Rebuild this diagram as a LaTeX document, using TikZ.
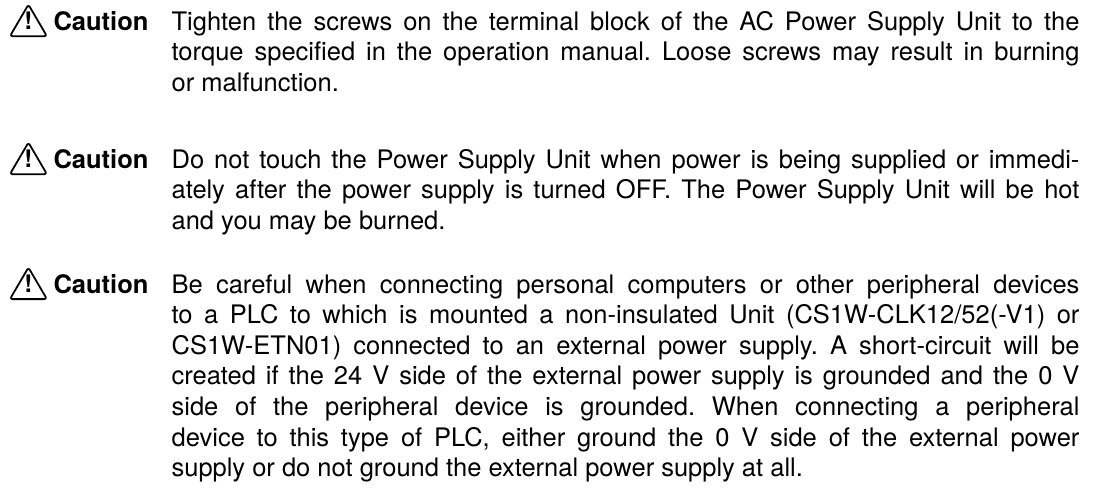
\documentclass[tikz,border=0pt]{standalone}
\usepackage{fontspec}
\setmainfont{TeX Gyre Heros}
\usetikzlibrary{positioning}

\tikzset{
  warnsign/.style={line width=0.7pt, rounded corners=1pt, line join=round},
  warnmark/.style={font=\fontsize{9.5}{9.5}\selectfont\bfseries, inner sep=0pt, anchor=base},
  cautionlabel/.style={font=\bfseries, inner sep=0pt, anchor=base west},
  cautiontext/.style={inner sep=0pt, anchor=base west}
}

\newcommand{\cautionpar}[1]{\parbox[t]{356pt}{\fontsize{10}{12}\selectfont\frenchspacing
  \hyphenpenalty=10000\exhyphenpenalty=10000\emergencystretch=20pt #1}}

\begin{document}
\begin{tikzpicture}[font=\fontsize{10}{12}\selectfont]

    % Fix the page size
    \useasboundingbox (0,0) rectangle (429pt,-191.8pt);

    % Define the baselines of the three cautions
    \coordinate (B1) at (0,-11.8pt);
    \coordinate (B2) at (0,-65.9pt);
    \coordinate (B3) at (0,-114.9pt);

    % First caution: warning sign, label and text
    \draw[warnsign] ([shift={(3.9pt,-2.4pt)}]B1) -- ([shift={(18.4pt,-2.4pt)}]B1)
        -- ([shift={(11.15pt,10pt)}]B1) -- cycle;
    \node[warnmark] (mark1) at ([shift={(11.15pt,0.2pt)}]B1) {!};
    \node[cautionlabel] (label1) at ([xshift=20.8pt]B1) {Caution};
    \node[cautiontext] (text1) at ([xshift=67.1pt]B1) {\cautionpar{Tighten the screws on the
      terminal block of the AC Power Supply Unit to the\linebreak torque specified in the
      operation manual. Loose screws may result in burning\linebreak or malfunction.}};

    % Second caution
    \draw[warnsign] ([shift={(3.9pt,-2.4pt)}]B2) -- ([shift={(18.4pt,-2.4pt)}]B2)
        -- ([shift={(11.15pt,10pt)}]B2) -- cycle;
    \node[warnmark] (mark2) at ([shift={(11.15pt,0.2pt)}]B2) {!};
    \node[cautionlabel] (label2) at ([xshift=20.8pt]B2) {Caution};
    \node[cautiontext] (text2) at ([xshift=67.1pt]B2) {\cautionpar{Do not touch the Power
      Supply Unit when power is being supplied or immedi-\linebreak ately after the power
      supply is turned OFF. The Power Supply Unit will be hot\linebreak and you may be
      burned.}};

    % Third caution
    \draw[warnsign] ([shift={(3.9pt,-2.4pt)}]B3) -- ([shift={(18.4pt,-2.4pt)}]B3)
        -- ([shift={(11.15pt,10pt)}]B3) -- cycle;
    \node[warnmark] (mark3) at ([shift={(11.15pt,0.2pt)}]B3) {!};
    \node[cautionlabel] (label3) at ([xshift=20.8pt]B3) {Caution};
    \node[cautiontext] (text3) at ([xshift=67.1pt]B3) {\cautionpar{Be careful when connecting
      personal computers or other peripheral devices\linebreak to a PLC to which is mounted
      a non-insulated Unit (CS1W-CLK12/52(-V1) or\linebreak CS1W-ETN01) connected to an
      external power supply. A short-circuit will be\linebreak created if the 24~V side of
      the external power supply is grounded and the 0~V\linebreak side of the peripheral
      device is grounded. When connecting a peripheral\linebreak device to this type of
      PLC, either ground the 0~V side of the external power\linebreak supply or do not
      ground the external power supply at all.}};

\end{tikzpicture}
\end{document}
